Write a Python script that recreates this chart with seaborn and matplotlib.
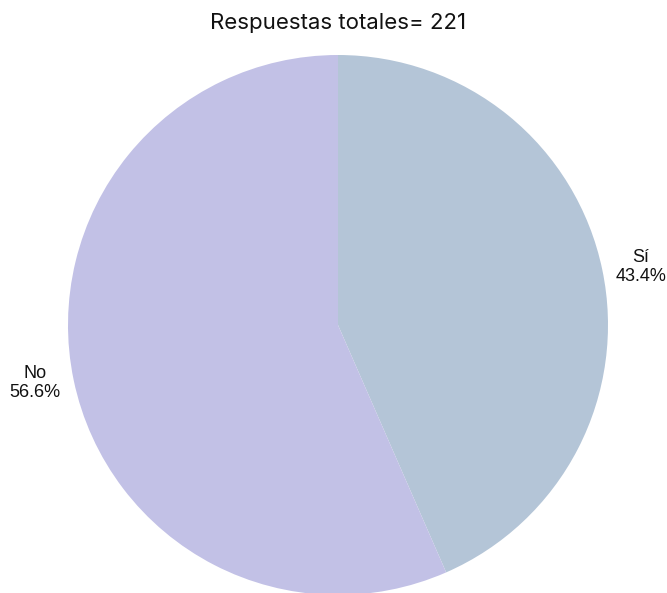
import matplotlib
matplotlib.use("Agg")
import matplotlib.pyplot as plt
import seaborn as sns

# Data
labels = ["Sí", "No"]
counts = [96, 125]
colors = ["#b4c5d7", "#c2c1e6"]

total = sum(counts)

sns.set_theme(style="white")
plt.rcParams['font.family'] = ['Liberation Sans', 'DejaVu Sans']

fig = plt.figure(figsize=(6.67, 5.93), dpi=100)
# square axes holding the pie (radius 270 px, centred at 338, 325)
ax = fig.add_axes([68 / 667, -2 / 593, 540 / 667, 540 / 593])

pal = sns.color_palette(colors)
wedges, texts = ax.pie(counts, labels=[f"{l}\n{c / total * 100:.1f}%" for l, c in zip(labels, counts)],
                       colors=pal, startangle=90, counterclock=False,
                       labeldistance=1.05, wedgeprops={'linewidth': 0},
                       textprops={'fontsize': 13, 'color': '#111111'})
for t in texts:
    t.set_multialignment('center')
    t.set_clip_on(False)
for w in wedges:
    w.set_clip_on(False)

ax.set_xlim(-1, 1)
ax.set_ylim(-1, 1)
ax.axis('off')

fig.text(338 / 667, 1 - 23 / 593, f"Respuestas totales= {total}", ha='center', va='center',
         fontsize=16, family=['Inter', 'DejaVu Sans'], color='#111111')

plt.savefig("out.png", dpi=100)
